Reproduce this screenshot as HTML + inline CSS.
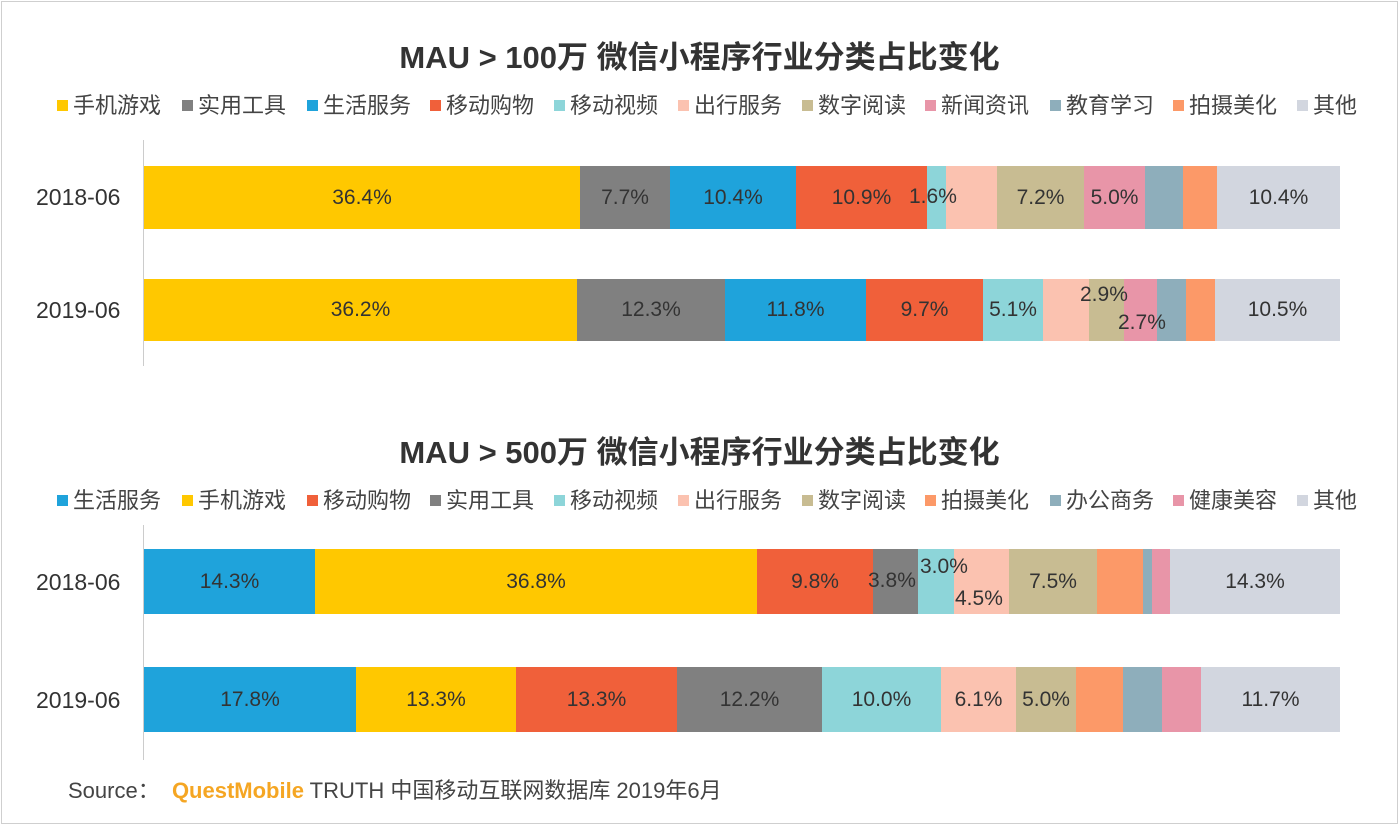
<!DOCTYPE html>
<html><head><meta charset="utf-8"><style>
*{margin:0;padding:0;box-sizing:border-box}
body{width:1399px;height:825px;background:#fff;position:relative;overflow:hidden;font-family:"Liberation Sans","Noto Sans CJK SC",sans-serif;color:#333}
.frame{position:absolute;left:1px;top:1px;width:1397px;height:823px;border:1px solid #cfcfcf}
.t{position:absolute;left:0;width:1399px;text-align:center;font-size:31px;font-weight:bold;color:#333}
.lg{position:absolute;font-size:22px;color:#444;white-space:nowrap;line-height:24px}
.lg i{display:inline-block;width:11px;height:11px;margin-right:5px;vertical-align:2px}
.s{position:absolute;display:flex;align-items:center;justify-content:center;font-size:21px;color:#333;overflow:visible;white-space:nowrap}
.y{position:absolute;left:36px;font-size:23px;color:#333}
.ax{position:absolute;left:143px;width:1px;background:#ccc}
.lb{position:absolute;font-size:21px;color:#333;white-space:nowrap}
.src{position:absolute;font-size:22px;color:#444;white-space:nowrap}
</style></head><body>
<div class="frame"></div>
<div class="t" style="top:32px">MAU &gt; 100万 微信小程序行业分类占比变化</div>
<div class="lg" style="left:57px;top:94px"><i style="background:#FFC800"></i>手机游戏</div>
<div class="lg" style="left:182px;top:94px"><i style="background:#808080"></i>实用工具</div>
<div class="lg" style="left:307px;top:94px"><i style="background:#1FA3DB"></i>生活服务</div>
<div class="lg" style="left:430px;top:94px"><i style="background:#F0603A"></i>移动购物</div>
<div class="lg" style="left:554px;top:94px"><i style="background:#8DD5D9"></i>移动视频</div>
<div class="lg" style="left:678px;top:94px"><i style="background:#FBC2B0"></i>出行服务</div>
<div class="lg" style="left:802px;top:94px"><i style="background:#C8BC92"></i>数字阅读</div>
<div class="lg" style="left:925px;top:94px"><i style="background:#E895A8"></i>新闻资讯</div>
<div class="lg" style="left:1050px;top:94px"><i style="background:#8EAEBB"></i>教育学习</div>
<div class="lg" style="left:1173px;top:94px"><i style="background:#FC9968"></i>拍摄美化</div>
<div class="lg" style="left:1297px;top:94px"><i style="background:#D2D6DF"></i>其他</div>
<div class="ax" style="top:140px;height:226px"></div>
<div class="y" style="top:184px">2018-06</div>
<div class="y" style="top:297px">2019-06</div>
<div class="s" style="left:144px;width:436px;top:166px;height:63px;background:#FFC800">36.4%</div>
<div class="s" style="left:580px;width:90px;top:166px;height:63px;background:#808080">7.7%</div>
<div class="s" style="left:670px;width:126px;top:166px;height:63px;background:#1FA3DB">10.4%</div>
<div class="s" style="left:796px;width:131px;top:166px;height:63px;background:#F0603A">10.9%</div>
<div class="s" style="left:927px;width:19px;top:166px;height:63px;background:#8DD5D9"></div>
<div class="s" style="left:946px;width:51px;top:166px;height:63px;background:#FBC2B0"></div>
<div class="s" style="left:997px;width:87px;top:166px;height:63px;background:#C8BC92">7.2%</div>
<div class="s" style="left:1084px;width:61px;top:166px;height:63px;background:#E895A8">5.0%</div>
<div class="s" style="left:1145px;width:38px;top:166px;height:63px;background:#8EAEBB"></div>
<div class="s" style="left:1183px;width:34px;top:166px;height:63px;background:#FC9968"></div>
<div class="s" style="left:1217px;width:123px;top:166px;height:63px;background:#D2D6DF">10.4%</div>
<div class="lb" style="left:909px;top:185px">1.6%</div>
<div class="s" style="left:144px;width:433px;top:279px;height:62px;background:#FFC800">36.2%</div>
<div class="s" style="left:577px;width:148px;top:279px;height:62px;background:#808080">12.3%</div>
<div class="s" style="left:725px;width:141px;top:279px;height:62px;background:#1FA3DB">11.8%</div>
<div class="s" style="left:866px;width:117px;top:279px;height:62px;background:#F0603A">9.7%</div>
<div class="s" style="left:983px;width:60px;top:279px;height:62px;background:#8DD5D9">5.1%</div>
<div class="s" style="left:1043px;width:46px;top:279px;height:62px;background:#FBC2B0"></div>
<div class="s" style="left:1089px;width:35px;top:279px;height:62px;background:#C8BC92"></div>
<div class="s" style="left:1124px;width:33px;top:279px;height:62px;background:#E895A8"></div>
<div class="s" style="left:1157px;width:29px;top:279px;height:62px;background:#8EAEBB"></div>
<div class="s" style="left:1186px;width:29px;top:279px;height:62px;background:#FC9968"></div>
<div class="s" style="left:1215px;width:125px;top:279px;height:62px;background:#D2D6DF">10.5%</div>
<div class="lb" style="left:1080px;top:283px">2.9%</div>
<div class="lb" style="left:1118px;top:311px">2.7%</div>

<div class="t" style="top:427px">MAU &gt; 500万 微信小程序行业分类占比变化</div>
<div class="lg" style="left:57px;top:489px"><i style="background:#1FA3DB"></i>生活服务</div>
<div class="lg" style="left:182px;top:489px"><i style="background:#FFC800"></i>手机游戏</div>
<div class="lg" style="left:307px;top:489px"><i style="background:#F0603A"></i>移动购物</div>
<div class="lg" style="left:430px;top:489px"><i style="background:#808080"></i>实用工具</div>
<div class="lg" style="left:554px;top:489px"><i style="background:#8DD5D9"></i>移动视频</div>
<div class="lg" style="left:678px;top:489px"><i style="background:#FBC2B0"></i>出行服务</div>
<div class="lg" style="left:802px;top:489px"><i style="background:#C8BC92"></i>数字阅读</div>
<div class="lg" style="left:925px;top:489px"><i style="background:#FC9968"></i>拍摄美化</div>
<div class="lg" style="left:1050px;top:489px"><i style="background:#8EAEBB"></i>办公商务</div>
<div class="lg" style="left:1173px;top:489px"><i style="background:#E895A8"></i>健康美容</div>
<div class="lg" style="left:1297px;top:489px"><i style="background:#D2D6DF"></i>其他</div>
<div class="ax" style="top:525px;height:235px"></div>
<div class="y" style="top:569px">2018-06</div>
<div class="y" style="top:687px">2019-06</div>
<div class="s" style="left:144px;width:171px;top:549px;height:65px;background:#1FA3DB">14.3%</div>
<div class="s" style="left:315px;width:442px;top:549px;height:65px;background:#FFC800">36.8%</div>
<div class="s" style="left:757px;width:116px;top:549px;height:65px;background:#F0603A">9.8%</div>
<div class="s" style="left:873px;width:45px;top:549px;height:65px;background:#808080"></div>
<div class="s" style="left:918px;width:36px;top:549px;height:65px;background:#8DD5D9"></div>
<div class="s" style="left:954px;width:55px;top:549px;height:65px;background:#FBC2B0"></div>
<div class="s" style="left:1009px;width:88px;top:549px;height:65px;background:#C8BC92">7.5%</div>
<div class="s" style="left:1097px;width:46px;top:549px;height:65px;background:#FC9968"></div>
<div class="s" style="left:1143px;width:9px;top:549px;height:65px;background:#8EAEBB"></div>
<div class="s" style="left:1152px;width:18px;top:549px;height:65px;background:#E895A8"></div>
<div class="s" style="left:1170px;width:170px;top:549px;height:65px;background:#D2D6DF">14.3%</div>
<div class="lb" style="left:868px;top:569px">3.8%</div>
<div class="lb" style="left:920px;top:555px">3.0%</div>
<div class="lb" style="left:955px;top:587px">4.5%</div>
<div class="s" style="left:144px;width:212px;top:667px;height:65px;background:#1FA3DB">17.8%</div>
<div class="s" style="left:356px;width:160px;top:667px;height:65px;background:#FFC800">13.3%</div>
<div class="s" style="left:516px;width:161px;top:667px;height:65px;background:#F0603A">13.3%</div>
<div class="s" style="left:677px;width:145px;top:667px;height:65px;background:#808080">12.2%</div>
<div class="s" style="left:822px;width:119px;top:667px;height:65px;background:#8DD5D9">10.0%</div>
<div class="s" style="left:941px;width:75px;top:667px;height:65px;background:#FBC2B0">6.1%</div>
<div class="s" style="left:1016px;width:60px;top:667px;height:65px;background:#C8BC92">5.0%</div>
<div class="s" style="left:1076px;width:47px;top:667px;height:65px;background:#FC9968"></div>
<div class="s" style="left:1123px;width:39px;top:667px;height:65px;background:#8EAEBB"></div>
<div class="s" style="left:1162px;width:39px;top:667px;height:65px;background:#E895A8"></div>
<div class="s" style="left:1201px;width:139px;top:667px;height:65px;background:#D2D6DF">11.7%</div>

<div class="src" style="left:68px;top:773px">Source：&nbsp;&nbsp;<span style="color:#F5A623;font-weight:bold">QuestMobile</span> TRUTH 中国移动互联网数据库 2019年6月</div>
</body></html>
